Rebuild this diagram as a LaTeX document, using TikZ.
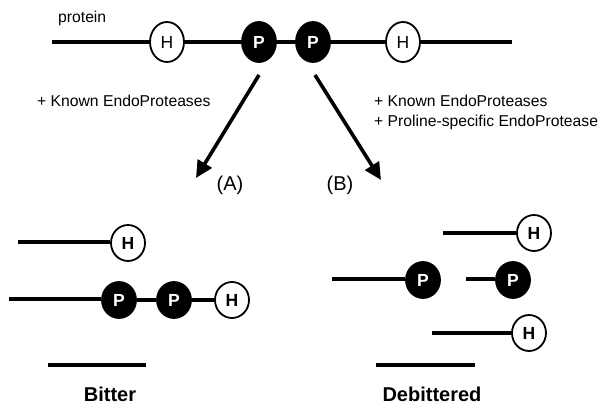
\documentclass[tikz,border=0pt]{standalone}
\usepackage{fontspec}
\setmainfont{Liberation Sans}
\usetikzlibrary{arrows.meta,shapes.geometric}
\begin{document}
\begin{tikzpicture}[x=1pt,y=-1pt,
  chain/.style={line width=4.6pt},
  hnode/.style={ellipse,draw,line width=1.8pt,fill=white,minimum width=34pt,minimum height=40pt,inner sep=0pt,font=\fontsize{17.5}{17.5}\selectfont},
  pnode/.style={ellipse,draw,line width=1.8pt,fill=black,text=white,minimum width=34pt,minimum height=40pt,inner sep=0pt,font=\fontsize{17.5}{17.5}\selectfont\bfseries},
  hsmall/.style={hnode,minimum height=36pt,font=\fontsize{17.5}{17.5}\selectfont\bfseries},
  psmall/.style={pnode,minimum height=36pt},
  lbl/.style={anchor=base west,inner sep=0pt,font=\fontsize{15.7}{15.7}\selectfont},
  ttl/.style={anchor=base,inner sep=0pt,font=\fontsize{20}{20}\selectfont\bfseries},
  par/.style={anchor=base,inner sep=0pt,font=\fontsize{20}{20}\selectfont},
  arr/.style={line width=3.6pt,-{Triangle[length=17pt,width=16pt]}}]
\useasboundingbox (0,0) rectangle (598,404);
% top protein
\node[lbl] (protein) at (58,22.5) {protein};
\coordinate (t0) at (52,42);
\coordinate (t1) at (512,42);
\node[hnode] (th1) at (167,42) {H};
\node[pnode] (tp1) at (259,42) {P};
\node[pnode] (tp2) at (313,42) {P};
\node[hnode] (th2) at (403,42) {H};
\draw[chain] (t0) -- (th1) (th1) -- (tp1) (tp1) -- (tp2) (tp2) -- (th2) (th2) -- (t1);
% arrows
\coordinate (as) at (259,75);
\coordinate (ae) at (196,178);
\coordinate (bs) at (315,75);
\coordinate (be) at (381,180);
\draw[arr] (as) -- (ae);
\draw[arr] (bs) -- (be);
\node[lbl] (la) at (37,106.5) {+ Known EndoProteases};
\node[lbl] (lb1) at (374,106.5) {+ Known EndoProteases};
\node[lbl] (lb2) at (374,126.5) {+ Proline-specific EndoProtease};
\node[par] (A) at (230,190) {(A)};
\node[par] (B) at (340,190) {(B)};
% bitter fragments
\coordinate (l1) at (18,242);
\node[hsmall] (lh1) at (128,243) {H};
\draw[chain] (l1) -- (lh1.west |- l1);
\coordinate (l2) at (9,299);
\node[psmall] (lp1) at (119,300) {P};
\node[psmall] (lp2) at (174,300) {P};
\node[hsmall] (lh2) at (232,300) {H};
\draw[chain] (l2) -- (lp1.west |- l2) (lp1) -- (lp2) (lp2) -- (lh2);
\coordinate (lb0) at (48,365);
\coordinate (lbe) at (146,365);
\draw[chain] (lb0) -- (lbe);
\node[ttl] (bitter) at (110,401) {Bitter};
% debittered fragments
\coordinate (r1) at (443,233);
\node[hsmall] (rh1) at (534,233) {H};
\draw[chain] (r1) -- (rh1);
\coordinate (r2) at (332,279);
\node[psmall] (rp1) at (423,280) {P};
\draw[chain] (r2) -- (rp1.west |- r2);
\coordinate (r3) at (466,279);
\node[psmall] (rp2) at (513,280) {P};
\draw[chain] (r3) -- (rp2.west |- r3);
\coordinate (r4) at (432,333);
\node[hsmall] (rh2) at (529,333) {H};
\draw[chain] (r4) -- (rh2);
\coordinate (rb0) at (376,365);
\coordinate (rbe) at (475,365);
\draw[chain] (rb0) -- (rbe);
\node[ttl] (deb) at (432,401) {Debittered};
\end{tikzpicture}
\end{document}
